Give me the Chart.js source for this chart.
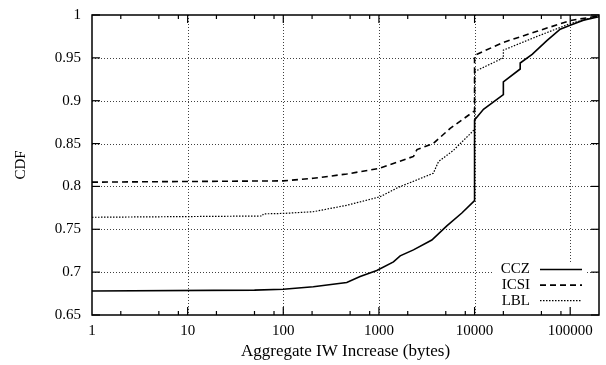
<!DOCTYPE html>
<html>
<head>
<meta charset="utf-8">
<script src="https://cdn.jsdelivr.net/npm/chart.js@4.4.1/dist/chart.umd.min.js"></script>
<style>
  html, body { margin: 0; padding: 0; background: #fff; }
</style>
</head>
<body>
<canvas id="cdfChart" width="606" height="365"></canvas>
<script>
// values
const cczX = [1, 50, 100, 206, 461, 636, 950, 1419, 1667, 2296, 3573, 5129, 7360, 10000, 10000, 12390, 20000, 20000, 30000, 30000, 40000, 57000, 78600, 100000, 137700, 200000];
const cczY = [0.678, 0.679, 0.680, 0.683, 0.688, 0.695, 0.702, 0.712, 0.719, 0.726, 0.7375, 0.754, 0.769, 0.7834, 0.8775, 0.890, 0.907, 0.922, 0.937, 0.944, 0.954, 0.970, 0.9835, 0.988, 0.994, 0.998];

const icsiX = [1, 100, 206, 461, 1000, 2300, 2500, 3700, 5560, 9400, 10000, 10000, 20000, 45000, 100000, 200000];
const icsiY = [0.805, 0.8065, 0.8095, 0.8145, 0.821, 0.835, 0.843, 0.850, 0.8678, 0.886, 0.888, 0.953, 0.968, 0.981, 0.9935, 0.999];

const lblX = [1, 60, 62, 100, 206, 461, 1030, 1600, 3700, 4200, 6000, 9700, 10000, 10000, 20000, 20000, 45000, 100000, 200000];
const lblY = [0.764, 0.7655, 0.768, 0.7685, 0.7705, 0.778, 0.788, 0.799, 0.8153, 0.829, 0.842, 0.865, 0.868, 0.934, 0.950, 0.959, 0.975, 0.990, 0.999];

const xTickValues = [1, 10, 100, 1000, 10000, 100000];
const xMinorValues = [2, 5, 8, 20, 50, 80, 200, 500, 800, 2000, 5000, 8000, 20000, 50000, 80000];
const yTickValues = [0.65, 0.7, 0.75, 0.8, 0.85, 0.9, 0.95, 1];

const seriesNames = ['CCZ', 'ICSI', 'LBL'];

function toPoints(xs, ys) {
  return xs.map((x, i) => ({ x: x, y: ys[i] }));
}

const lineStyles = [
  { width: 1.6, dash: [] },
  { width: 1.6, dash: [6, 4] },
  { width: 1.2, dash: [1.5, 1.5] }
];

const FONT = 'Liberation Serif';

// grid, inward ticks, frame and key, gnuplot style
const framePlugin = {
  id: 'frame',
  beforeDatasetsDraw(chart) {
    const { ctx, chartArea: a, scales: { x, y } } = chart;
    ctx.save();
    ctx.strokeStyle = 'rgba(0,0,0,0.75)';
    ctx.lineWidth = 1;
    ctx.setLineDash([1, 2]);
    xTickValues.slice(1).forEach(v => {
      const px = Math.round(x.getPixelForValue(v)) + 0.5;
      ctx.beginPath(); ctx.moveTo(px, a.top); ctx.lineTo(px, a.bottom); ctx.stroke();
    });
    yTickValues.slice(1, -1).forEach(v => {
      const py = Math.round(y.getPixelForValue(v)) + 0.5;
      ctx.beginPath(); ctx.moveTo(a.left, py); ctx.lineTo(a.right, py); ctx.stroke();
    });
    ctx.setLineDash([]);
    // opaque key box
    ctx.fillStyle = '#fff';
    ctx.fillRect(493, 262, 92, a.bottom - 262);
    ctx.restore();
  },
  afterDatasetsDraw(chart) {
    const { ctx, chartArea: a, scales: { x, y } } = chart;
    ctx.save();
    ctx.strokeStyle = '#000';
    ctx.lineWidth = 1.2;
    const tick = (x1, y1, x2, y2) => { ctx.beginPath(); ctx.moveTo(x1, y1); ctx.lineTo(x2, y2); ctx.stroke(); };
    xTickValues.slice(1).forEach(v => {
      const px = x.getPixelForValue(v);
      tick(px, a.bottom, px, a.bottom - 8);
      tick(px, a.top, px, a.top + 8);
    });
    xMinorValues.forEach(v => {
      const px = x.getPixelForValue(v);
      tick(px, a.bottom, px, a.bottom - 4);
      tick(px, a.top, px, a.top + 4);
    });
    yTickValues.forEach(v => {
      const py = y.getPixelForValue(v);
      tick(a.left, py, a.left + 8, py);
      tick(a.right, py, a.right - 8, py);
    });
    ctx.lineWidth = 1.5;
    ctx.strokeRect(a.left, a.top, a.right - a.left, a.bottom - a.top);

    // key
    ctx.font = '15px "' + FONT + '"';
    ctx.fillStyle = '#000';
    ctx.textAlign = 'right';
    ctx.textBaseline = 'middle';
    chart.data.datasets.forEach((ds, i) => {
      const ky = 269.5 + i * 15.6;
      ctx.fillText(ds.label, 530, ky);
      ctx.lineWidth = ds.borderWidth;
      ctx.setLineDash(ds.borderDash);
      ctx.beginPath(); ctx.moveTo(540, ky); ctx.lineTo(582, ky); ctx.stroke();
    });
    ctx.restore();
  }
};

const datasets = [
  toPoints(cczX, cczY),
  toPoints(icsiX, icsiY),
  toPoints(lblX, lblY)
].map((pts, i) => ({
  label: seriesNames[i],
  data: pts,
  borderColor: '#000',
  borderWidth: lineStyles[i].width,
  borderDash: lineStyles[i].dash,
  pointRadius: 0,
  tension: 0,
  fill: false
}));

new Chart(document.getElementById('cdfChart'), {
  type: 'line',
  data: { datasets: datasets },
  options: {
    responsive: false,
    animation: false,
    devicePixelRatio: 1,
    layout: { padding: { left: 0, right: 7, top: 15, bottom: 0 } },
    plugins: {
      legend: { display: false },
      tooltip: { enabled: false }
    },
    scales: {
      x: {
        type: 'logarithmic',
        min: 1,
        max: 200000,
        grid: { display: false, drawTicks: false },
        border: { display: false },
        afterBuildTicks(scale) {
          scale.ticks = xTickValues.map(v => ({ value: v }));
        },
        afterFit(scale) { scale.height = 50; },
        ticks: {
          color: '#000',
          padding: 7,
          maxRotation: 0,
          autoSkip: false,
          font: { family: FONT, size: 15 },
          callback: v => String(v)
        },
        title: {
          display: true,
          text: 'Aggregate IW Increase (bytes)',
          color: '#000',
          font: { family: FONT, size: 17 },
          padding: { top: 0, bottom: 3 }
        }
      },
      y: {
        min: 0.65,
        max: 1,
        grid: { display: false, drawTicks: false },
        border: { display: false },
        afterBuildTicks(scale) {
          scale.ticks = yTickValues.map(v => ({ value: v }));
        },
        afterFit(scale) {
          scale.width = 92;
          scale.paddingTop = 0;
          scale.paddingBottom = 0;
        },
        ticks: {
          color: '#000',
          padding: 11,
          font: { family: FONT, size: 15 },
          callback: v => String(Number(v.toFixed(2)))
        },
        title: {
          display: true,
          text: 'CDF',
          color: '#000',
          font: { family: FONT, size: 15 },
          padding: { top: 12, bottom: 0 }
        }
      }
    }
  },
  plugins: [framePlugin]
});
</script>
</body>
</html>
